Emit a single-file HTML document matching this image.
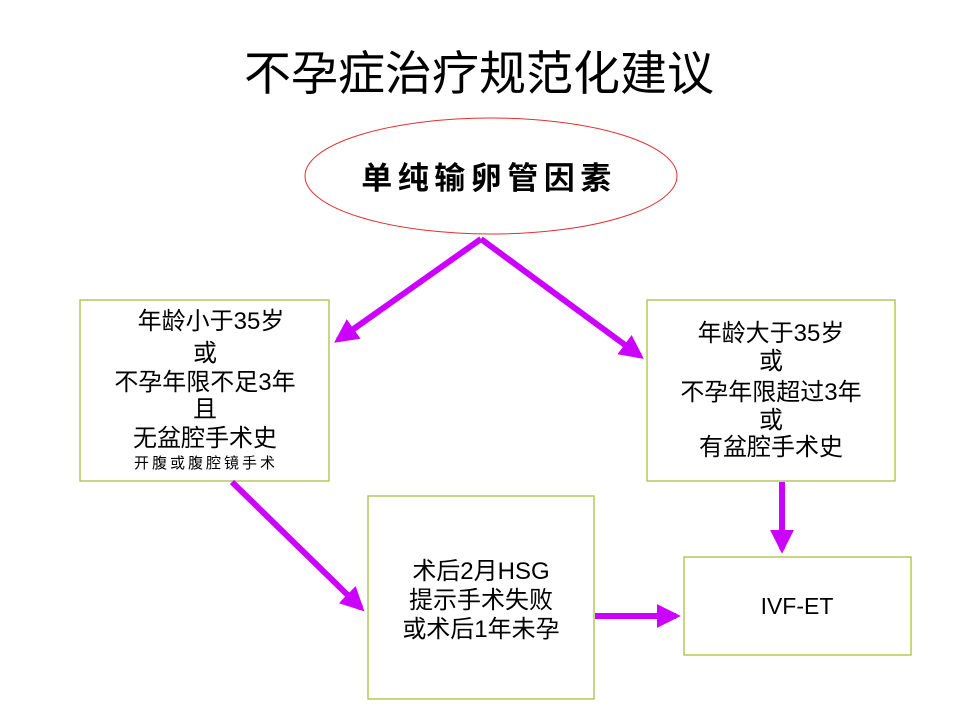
<!DOCTYPE html>
<html><head><meta charset="utf-8"><style>
html,body{margin:0;padding:0;background:#fff;}
svg{display:block;}
text{font-family:"Liberation Sans","Noto Sans CJK SC",sans-serif;fill:#000;}
</style></head><body>
<svg width="960" height="720" viewBox="0 0 960 720" xmlns="http://www.w3.org/2000/svg">
<defs>
<marker id="ah" markerWidth="4" markerHeight="4" refX="3.2" refY="2" orient="auto" markerUnits="strokeWidth">
<path d="M0,0 L4,2 L0,4 z" fill="#cc00ff"/>
</marker>
</defs>
<text x="479" y="90" font-size="47" text-anchor="middle">不孕症治疗规范化建议</text>
<ellipse cx="491" cy="176" rx="186" ry="58" fill="#fff" stroke="#e03030" stroke-width="1"/>
<text x="489" y="189" font-size="31" font-weight="bold" text-anchor="middle" letter-spacing="5.5" font-family="'Noto Serif CJK SC',serif">单纯输卵管因素</text>

<g stroke="#a8c040" stroke-width="1.3" fill="#fff">
<rect x="80" y="300" width="249" height="181"/>
<rect x="647" y="300" width="248" height="181"/>
<rect x="368" y="496" width="226" height="203"/>
<rect x="684" y="557" width="227" height="98"/>
</g>

<g stroke="#cc00ff" stroke-width="6" fill="none" marker-end="url(#ah)">
<line x1="481" y1="239" x2="338" y2="340"/>
<line x1="481" y1="239" x2="640" y2="356"/>
<line x1="232" y1="482" x2="361" y2="608"/>
<line x1="782" y1="482" x2="782" y2="549"/>
<line x1="595" y1="616" x2="676" y2="616"/>
</g>

<g font-size="24" text-anchor="middle">
<text x="211" y="329">年龄小于35岁</text>
<text x="205" y="361">或</text>
<text x="205" y="390">不孕年限不足3年</text>
<text x="205" y="417">且</text>
<text x="205" y="446">无盆腔手术史</text>
<text x="206" y="468" font-size="15" letter-spacing="3" font-family="'Noto Serif CJK SC',serif">开腹或腹腔镜手术</text>

<text x="771" y="341">年龄大于35岁</text>
<text x="771" y="369">或</text>
<text x="771" y="400">不孕年限超过3年</text>
<text x="771" y="428">或</text>
<text x="771" y="455">有盆腔手术史</text>

<text x="481" y="579">术后2月HSG</text>
<text x="481" y="608">提示手术失败</text>
<text x="481" y="637">或术后1年未孕</text>

<text x="797" y="614" font-size="23">IVF-ET</text>
</g>
</svg>
</body></html>
